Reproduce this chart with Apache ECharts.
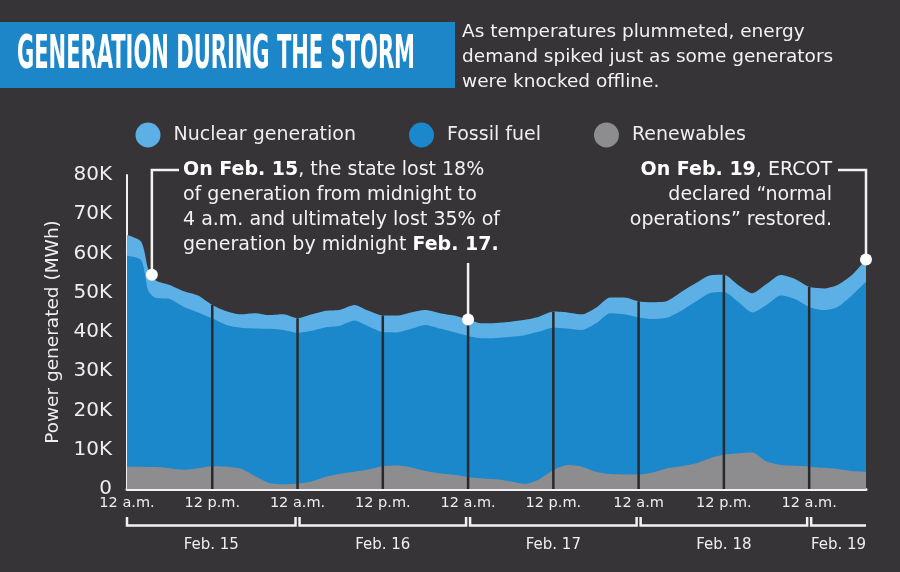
<!DOCTYPE html>
<html><head><meta charset="utf-8">
<script src="https://cdn.jsdelivr.net/npm/echarts@6/dist/echarts.min.js"></script>
<style>html,body{margin:0;padding:0;background:#363436;}#c{width:900px;height:572px;}</style>
</head><body><div id="c"></div>
<script>
// hours since 12 a.m. Feb. 15
const hours = [0,2,3,4,6,8,10,12,14,16,18,20,22,24,26,28,30,32,34,36,38,40,42,44,46,48,50,52,54,56,58,60,62,64,66,68,70,72,74,76,78,80,82,84,86,88,90,92,94,96,98,100,102,104];
// generation, thousands of MWh
const renewables = [5.7,5.7,5.6,5.6,5.3,4.9,5.3,5.8,5.7,5.2,3.3,1.5,1.2,1.4,1.9,3.1,3.9,4.4,5.0,5.8,6.0,5.5,4.6,4.0,3.6,3.0,2.7,2.5,1.9,1.3,2.5,4.8,6.1,5.7,4.4,3.8,3.7,3.7,4.2,5.3,5.8,6.5,7.8,8.7,9.1,9.3,7.0,6.1,5.9,5.7,5.4,5.1,4.6,4.4];
const fossil = [53.7,52.6,44.9,43.1,43.1,41.5,39.7,37.7,36.1,35.9,37.6,39.3,39.3,38.4,38.4,38.1,37.7,38.5,36.4,34.2,33.9,35.3,37.2,36.9,36.4,36.0,35.7,36.0,36.9,37.9,37.6,36.3,34.8,34.8,37.8,41.0,40.8,40.0,39.1,38.3,39.6,41.2,42.1,41.5,38.6,35.7,39.9,43.2,42.5,40.7,40.2,41.3,44.7,48.4];
const nuclear = [5.3,4.7,5.5,4.5,3.6,4.0,4.3,3.4,3.5,3.4,3.9,3.5,4.0,3.7,4.2,4.2,4.1,4.0,4.0,4.2,4.3,4.2,3.8,3.9,4.2,4.2,3.8,3.8,3.8,3.9,3.8,4.1,4.1,4.0,4.0,4.0,4.3,4.1,4.3,4.3,4.8,4.7,4.5,4.4,4.3,4.9,5.3,5.2,5.1,5.1,5.5,5.6,5.2,5.7];
const seriesNames = ['Nuclear generation','Fossil fuel','Renewables'];
const xTickLabels = ['12 a.m.','12 p.m.','12 a.m.','12 p.m.','12 a.m.','12 p.m.','12 a.m','12 p.m.','12 a.m.'];
const dayLabels = ['Feb. 15','Feb. 16','Feb. 17','Feb. 18','Feb. 19'];
const gridHours = [12,24,36,48,60,72,84,96];
const annotationHours = [3.5,48,104];

const FONT = '"DejaVu Sans", "Noto Sans", sans-serif';
const C_NUC = '#5cb0e5', C_FOS = '#1b88cc', C_REN = '#8d8d8f', C_BG = '#363436';

// stacked tops (areas drawn back-to-front, each filled from zero)
const fossilTop = hours.map((h,i)=>renewables[i]+fossil[i]);
const totals = hours.map((h,i)=>renewables[i]+fossil[i]+nuclear[i]);
function totalAt(h){
  for(let i=0;i<hours.length-1;i++){
    if(h>=hours[i] && h<=hours[i+1]){
      const t=(h-hours[i])/(hours[i+1]-hours[i]);
      return totals[i]+(totals[i+1]-totals[i])*t;
    }
  }
  return totals[totals.length-1];
}
const pairs = arr => hours.map((h,i)=>[h,arr[i]]);

const chart = echarts.init(document.getElementById('c'));
const areaSeries = (name, arr, color, z) => ({
  name, type:'line', data:pairs(arr), smooth:0.25, symbol:'none',
  color, lineStyle:{width:0}, areaStyle:{color, opacity:1, origin:'start'}, z
});
chart.setOption({
  backgroundColor: C_BG,
  animation:false,
  textStyle:{fontFamily:FONT},
  legend:{
    data:seriesNames, left:130.5, top:117.5, icon:'circle', itemWidth:25, itemHeight:25, itemGap:53,
    textStyle:{color:'#eeeeee', fontSize:19, fontFamily:FONT, padding:[0,0,0,8]}
  },
  grid:{left:127, right:34, top:175, bottom:83},
  xAxis:{
    type:'value', min:0, max:104, interval:12,
    axisLine:{show:true, onZero:false, lineStyle:{color:'#f2f2f2', width:3}},
    axisTick:{show:false}, splitLine:{show:false},
    axisLabel:{color:'#eeeeee', fontSize:14.5, fontFamily:FONT, margin:7, showMaxLabel:false,
      formatter:v=>{const k=Math.round(v/12); return (v%12===0 && k<xTickLabels.length)?xTickLabels[k]:'';}}
  },
  yAxis:{
    type:'value', min:0, max:80, interval:10,
    name:'Power generated (MWh)', nameLocation:'middle', nameGap:64,
    nameTextStyle:{color:'#eeeeee', fontSize:18.5, fontFamily:FONT},
    axisLine:{show:true, lineStyle:{color:'#f2f2f2', width:2}},
    axisTick:{show:false}, splitLine:{show:false},
    axisLabel:{color:'#eeeeee', fontSize:20, fontFamily:FONT, margin:15, formatter:v=>v===0?'0':v+'K'}
  },
  series:[
    areaSeries(seriesNames[0], totals, C_NUC, 1),
    areaSeries(seriesNames[1], fossilTop, C_FOS, 2),
    areaSeries(seriesNames[2], renewables, C_REN, 3),
    {
      type:'custom', z:5, silent:true,
      data: gridHours.map(h=>[h, totals[hours.indexOf(h)]]),
      renderItem:(params, api)=>{
        const p0=api.coord([api.value(0),0]), p1=api.coord([api.value(0),api.value(1)]);
        return {type:'line', shape:{x1:p0[0],y1:p0[1],x2:p1[0],y2:p1[1]}, style:{stroke:'#2a292b', lineWidth:2.5}};
      }
    }
  ]
});

// annotations and axis brackets
const px = (h,v)=>chart.convertToPixel({gridIndex:0},[h,v]);
const g = [];
g.push({type:'rect', shape:{x:0,y:22,width:455,height:66}, style:{fill:'#1c86c9'}, z:10});
const titleText='GENERATION DURING THE STORM';
const titleFont='bold 47px "DejaVu Sans Condensed", "DejaVu Sans", sans-serif';
const ctx=document.createElement('canvas').getContext('2d'); ctx.font=titleFont;
const tw=ctx.measureText(titleText).width;
g.push({type:'text', x:17, y:56, scaleX:398/tw, z:11,
  style:{text:titleText, font:titleFont, fill:'#ffffff', verticalAlign:'middle', align:'left'}});
g.push({type:'text', x:462, y:19.5, z:11,
  style:{text:'As temperatures plummeted, energy\ndemand spiked just as some generators\nwere knocked offline.',
    fontSize:18.5, fontFamily:FONT, fill:'#f2f2f2', lineHeight:25, verticalAlign:'top'}});
const dots = annotationHours.map(h=>px(h,totalAt(h)));
const LINE = {stroke:'#f2f2f2', lineWidth:2.5, fill:null};
g.push({type:'polyline', z:12, shape:{points:[[dots[0][0],dots[0][1]],[dots[0][0],170],[179,170]]}, style:LINE});
g.push({type:'polyline', z:12, shape:{points:[[dots[1][0],dots[1][1]],[dots[1][0],263]]}, style:LINE});
g.push({type:'polyline', z:12, shape:{points:[[838,170],[dots[2][0],170],[dots[2][0],dots[2][1]]]}, style:LINE});
dots.forEach(d=>g.push({type:'circle', z:13, shape:{cx:d[0],cy:d[1],r:6}, style:{fill:'#ffffff'}}));
const RICH = {b:{fontWeight:'bold', fontSize:19, fontFamily:FONT, fill:'#ffffff', lineHeight:25}};
g.push({type:'text', x:183, y:157.5, z:12, style:{
  text:'{b|On Feb. 15}, the state lost 18%\nof generation from midnight to\n4 a.m. and ultimately lost 35% of\ngeneration by midnight {b|Feb. 17.}',
  fontSize:19, fontFamily:FONT, fill:'#f2f2f2', lineHeight:25, verticalAlign:'top', rich:RICH}});
g.push({type:'text', x:832, y:157.5, z:12, style:{
  text:'{b|On Feb. 19}, ERCOT\ndeclared \u201cnormal\noperations\u201d restored.',
  fontSize:19, fontFamily:FONT, fill:'#f2f2f2', lineHeight:25, verticalAlign:'top', align:'right', rich:RICH}});
dayLabels.forEach((lab,i)=>{
  const last = i===dayLabels.length-1;
  const x0 = px(24*i,0)[0] + (i===0?0:2);
  const x1 = last ? px(104,0)[0] : px(24*(i+1),0)[0]-2;
  const pts = last ? [[x0,517],[x0,525.5],[x1,525.5]] : [[x0,517],[x0,525.5],[x1,525.5],[x1,517]];
  g.push({type:'polyline', z:12, shape:{points:pts}, style:{stroke:'#f2f2f2', lineWidth:2.5, fill:null}});
  g.push({type:'text', x:(x0+x1)/2, y:545, z:12, style:{text:lab, fontSize:15, fontFamily:FONT, fill:'#eeeeee', align:'center', verticalAlign:'middle'}});
});
chart.setOption({graphic:g});
</script></body></html>
